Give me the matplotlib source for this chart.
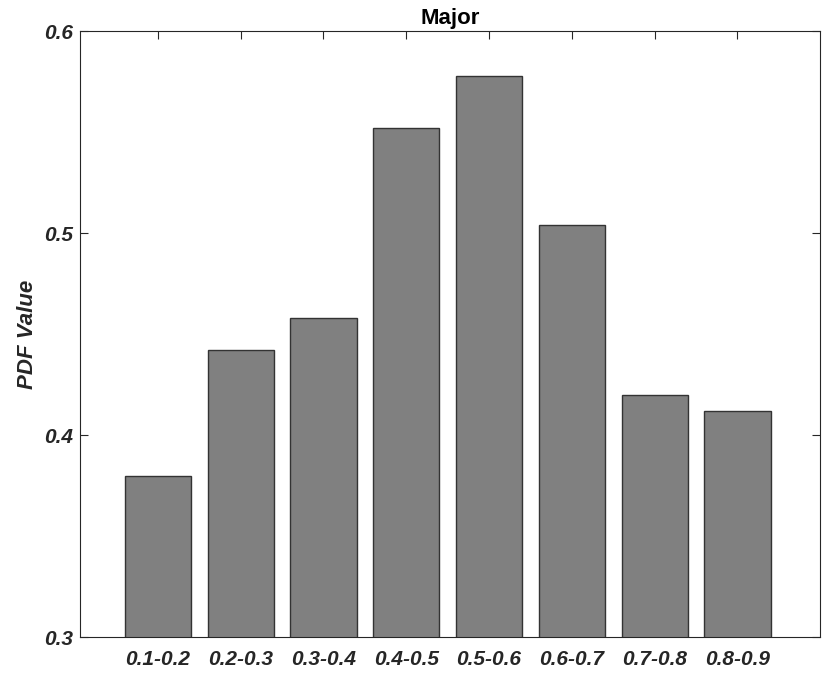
import matplotlib
matplotlib.use('Agg')
import numpy as np
import matplotlib.pyplot as plt

plt.rcParams['font.family'] = ['Liberation Sans', 'DejaVu Sans']

categories = ['0.1-0.2', '0.2-0.3', '0.3-0.4', '0.4-0.5',
              '0.5-0.6', '0.6-0.7', '0.7-0.8', '0.8-0.9']
pdf_values = [0.380, 0.442, 0.458, 0.552, 0.578, 0.504, 0.420, 0.412]
y_ticks = [0.3, 0.4, 0.5, 0.6]

fig = plt.figure(figsize=(8.3, 6.83), dpi=100)
ax = fig.add_axes([0.0964, 0.0669, 0.8919, 0.8873])

x = np.arange(1, len(categories) + 1)
ax.bar(x, pdf_values, width=0.8, color='#808080', edgecolor='#333333',
       linewidth=1.0, zorder=2)

ax.set_xlim(0.06, 9.0)
ax.set_ylim(0.3, 0.6)
ax.set_xticks(x)
ax.set_xticklabels(categories)
ax.set_yticks(y_ticks)
ax.set_yticklabels([f'{v:g}' for v in y_ticks])

for lab in ax.get_xticklabels() + ax.get_yticklabels():
    lab.set_fontweight('bold')
    lab.set_fontstyle('italic')
    lab.set_fontsize(15)
    lab.set_color('#262626')

ax.tick_params(direction='in', length=6, width=0.8, color='#262626',
               top=True, right=True)
ax.tick_params(axis='x', pad=9)
ax.tick_params(axis='y', pad=5)
for s in ax.spines.values():
    s.set_color('#262626')
    s.set_linewidth(0.8)

ax.set_ylabel('PDF Value', fontsize=16, fontweight='bold', fontstyle='italic',
              color='#262626', labelpad=4.5)
ax.set_title('Major', fontsize=16, fontweight='bold', color='black', pad=5)

fig.savefig('out.png', dpi=100)
